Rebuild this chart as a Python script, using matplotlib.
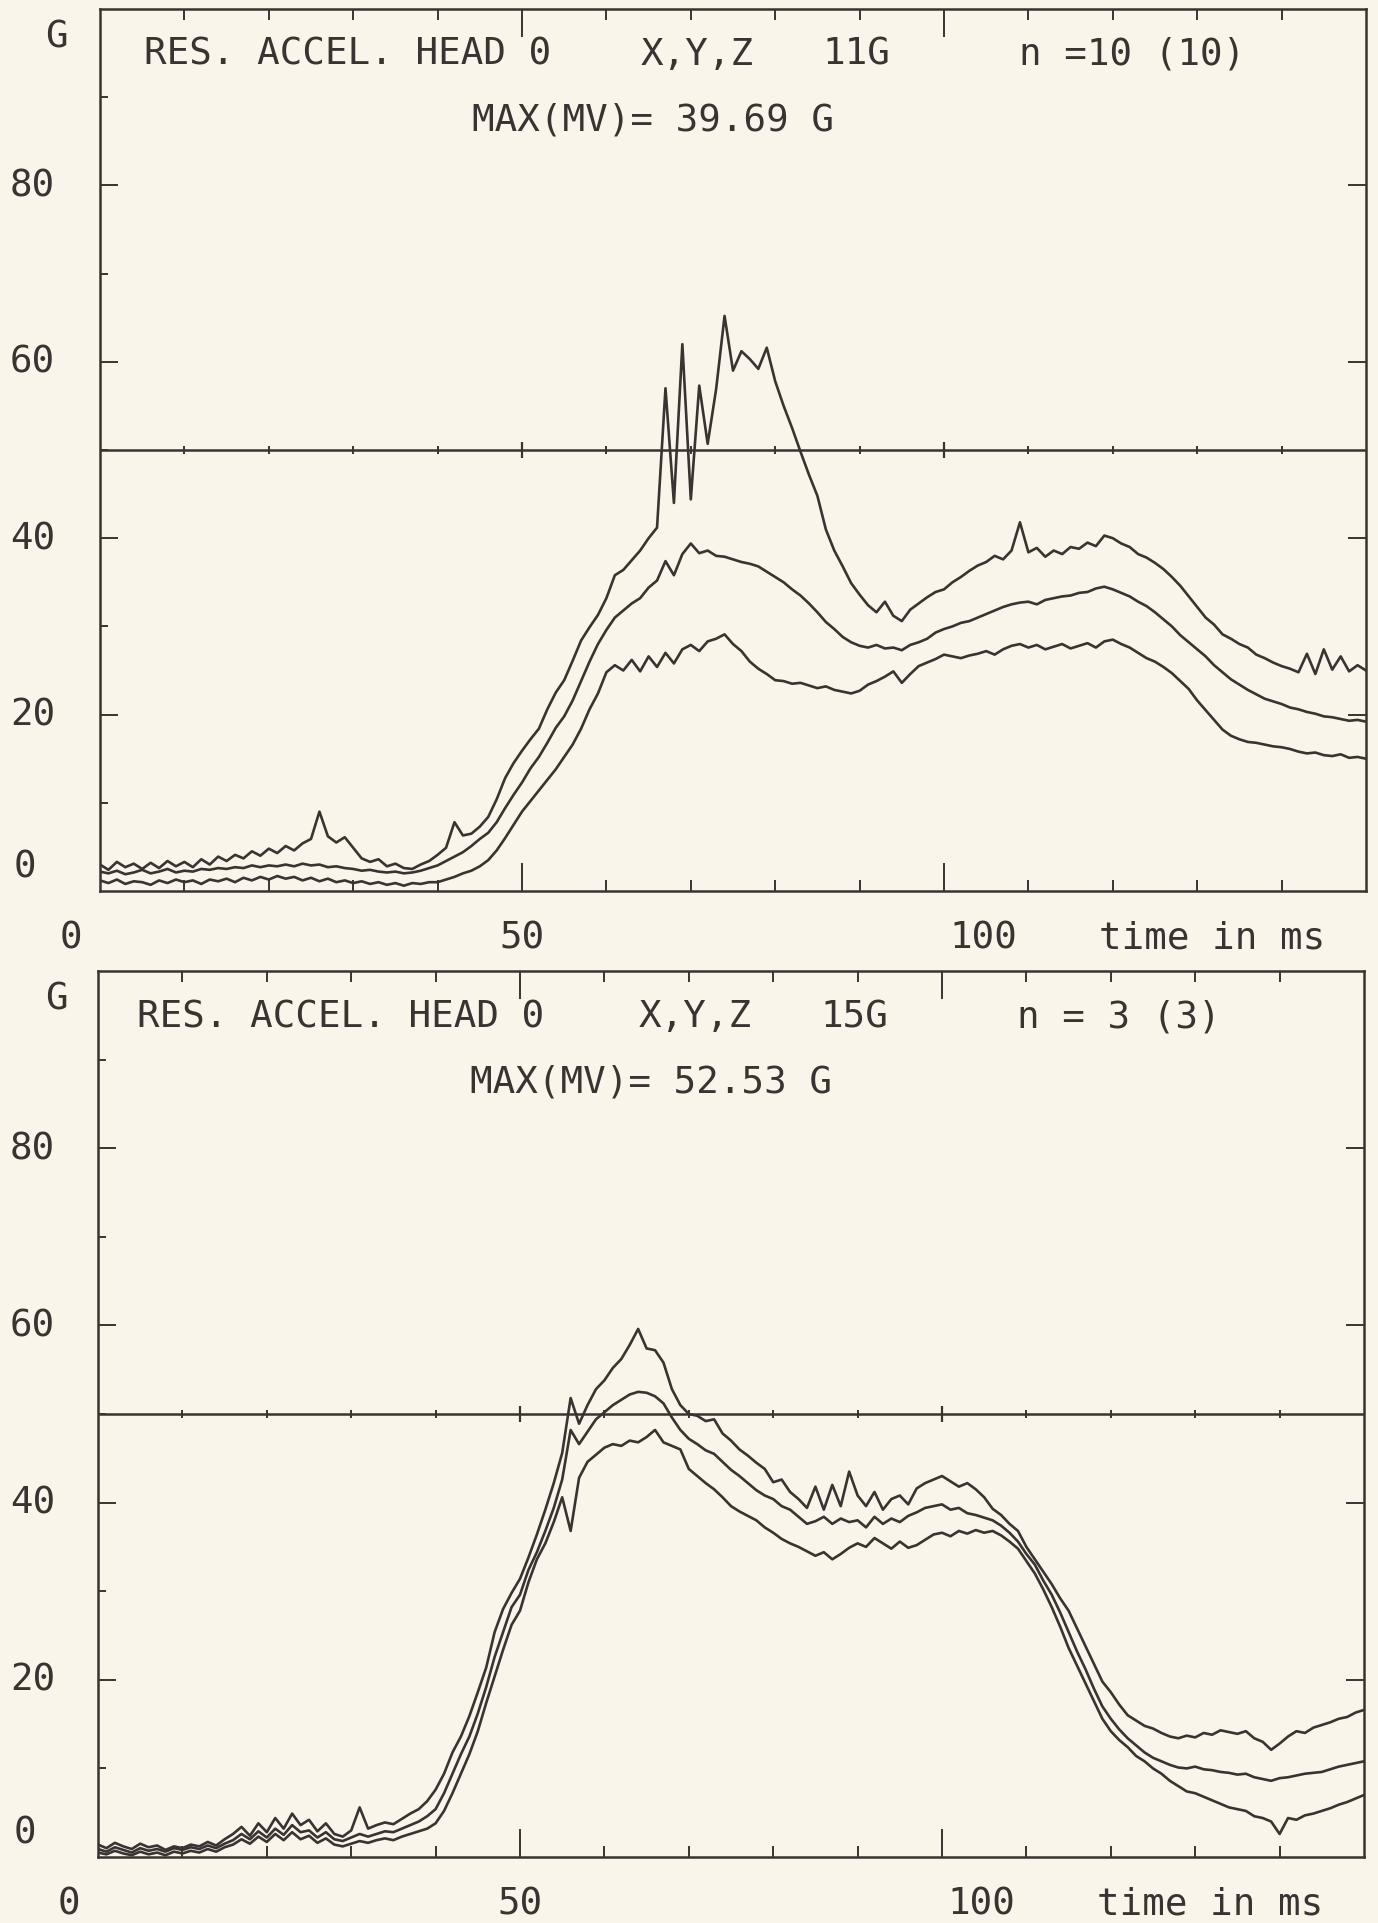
# -*- coding: utf-8 -*-
import numpy as np
import matplotlib.pyplot as plt
import matplotlib.transforms as mtransforms
from matplotlib.ticker import FixedLocator

# 时间轴 (ms)，每 1 ms 读一个点
t_ms = np.arange(0, 151, 1)

# ---------- 上图: 11G, n=10 ----------
top_upper = [
    3.0, 2.4, 3.3, 2.7, 3.1, 2.5, 3.2, 2.6, 3.4, 2.8,
    3.3, 2.7, 3.6, 3.0, 3.9, 3.4, 4.1, 3.7, 4.5, 4.0,
    4.8, 4.3, 5.1, 4.6, 5.4, 5.9, 9.0, 6.2, 5.5, 6.1,
    4.9, 3.7, 3.3, 3.6, 2.8, 3.1, 2.6, 2.5, 3.0, 3.4,
    4.1, 4.9, 7.8, 6.3, 6.5, 7.3, 8.4, 10.4, 12.8, 14.5,
    15.9, 17.2, 18.4, 20.6, 22.5, 23.9, 26.1, 28.4, 29.9, 31.3,
    33.2, 35.8, 36.4, 37.5, 38.6, 40.0, 41.2, 57.0, 44.0, 62.0,
    44.4, 57.3, 50.7, 56.9, 65.2, 59.0, 61.2, 60.3, 59.2, 61.6,
    57.8, 55.0, 52.5, 49.8, 47.2, 44.8, 41.0, 38.6, 36.8, 34.9,
    33.6, 32.4, 31.6, 32.8, 31.2, 30.6, 31.9, 32.6, 33.3, 33.9,
    34.2, 35.0, 35.6, 36.3, 36.9, 37.3, 38.0, 37.6, 38.6, 41.8,
    38.4, 38.9, 37.9, 38.6, 38.2, 39.0, 38.8, 39.5, 39.1, 40.3,
    40.0, 39.4, 39.0, 38.2, 37.8, 37.2, 36.5, 35.6, 34.6, 33.4,
    32.2, 31.0, 30.2, 29.1, 28.6, 28.0, 27.6, 26.8, 26.4, 25.9,
    25.5, 25.2, 24.8, 26.9, 24.6, 27.4, 25.1, 26.6, 24.9, 25.6,
    25.0]
top_middle = [
    2.2, 2.0, 2.3, 1.9, 2.1, 2.4, 2.0, 2.2, 2.5, 2.1,
    2.3, 2.2, 2.5, 2.4, 2.6, 2.5, 2.7, 2.6, 2.9, 2.7,
    2.9, 2.8, 3.0, 2.8, 3.1, 2.9, 3.0, 2.7, 2.8, 2.6,
    2.5, 2.3, 2.4, 2.2, 2.1, 2.2, 2.0, 2.1, 2.3, 2.6,
    2.9, 3.4, 3.9, 4.4, 5.1, 5.9, 6.6, 7.8, 9.4, 10.9,
    12.3, 13.9, 15.2, 16.8, 18.5, 19.8, 21.6, 23.8, 26.0, 28.0,
    29.6, 31.0, 31.8, 32.6, 33.2, 34.4, 35.2, 37.4, 35.8, 38.2,
    39.4, 38.3, 38.6, 38.0, 37.9, 37.6, 37.3, 37.1, 36.8, 36.2,
    35.6, 35.0, 34.2, 33.5, 32.6, 31.6, 30.5, 29.7, 28.8, 28.2,
    27.8, 27.6, 27.9, 27.5, 27.6, 27.3, 27.9, 28.2, 28.6, 29.3,
    29.7, 30.0, 30.4, 30.6, 31.0, 31.4, 31.8, 32.2, 32.5, 32.7,
    32.8, 32.5, 33.0, 33.2, 33.4, 33.5, 33.8, 33.9, 34.3, 34.5,
    34.2, 33.8, 33.4, 32.8, 32.3, 31.6, 30.8, 30.0, 29.0, 28.2,
    27.4, 26.6, 25.6, 24.8, 24.0, 23.4, 22.8, 22.3, 21.8, 21.5,
    21.2, 20.8, 20.6, 20.3, 20.1, 19.8, 19.7, 19.5, 19.3, 19.4,
    19.2]
top_lower = [
    1.2, 0.9, 1.3, 0.8, 1.1, 1.0, 0.7, 1.2, 0.9, 1.3,
    1.0, 1.2, 0.8, 1.3, 1.1, 1.4, 1.0, 1.5, 1.2, 1.6,
    1.3, 1.7, 1.4, 1.6, 1.2, 1.5, 1.1, 1.4, 1.0, 1.2,
    0.9, 1.1, 0.8, 1.0, 0.7, 0.9, 0.6, 0.9, 0.8, 1.0,
    1.0, 1.3, 1.6, 2.0, 2.3, 2.8, 3.5, 4.6, 6.0, 7.5,
    9.0, 10.2, 11.4, 12.6, 13.8, 15.2, 16.6, 18.4, 20.6, 22.4,
    24.8, 25.6, 25.0, 26.2, 24.9, 26.6, 25.4, 27.0, 25.8, 27.4,
    27.9, 27.2, 28.3, 28.6, 29.1, 28.0, 27.2, 26.0, 25.2, 24.6,
    23.9, 23.8, 23.5, 23.6, 23.3, 23.0, 23.2, 22.8, 22.6, 22.4,
    22.7, 23.4, 23.8, 24.3, 24.9, 23.6, 24.6, 25.5, 25.9, 26.3,
    26.8, 26.6, 26.4, 26.7, 26.9, 27.2, 26.8, 27.4, 27.8, 28.0,
    27.6, 27.9, 27.4, 27.7, 28.0, 27.5, 27.8, 28.1, 27.6, 28.3,
    28.5, 28.0, 27.6, 27.0, 26.4, 26.0, 25.4, 24.7, 23.8, 22.9,
    21.6, 20.5, 19.4, 18.3, 17.6, 17.2, 16.9, 16.8, 16.6, 16.4,
    16.3, 16.1, 15.8, 15.6, 15.7, 15.4, 15.3, 15.5, 15.1, 15.2,
    15.0]

# ---------- 下图: 15G, n=3 ----------
bot_upper = [
    1.4, 1.0, 1.6, 1.2, 0.9, 1.5, 1.1, 1.3, 0.8, 1.2,
    1.0, 1.4, 1.2, 1.7, 1.3, 2.0, 2.6, 3.4, 2.4, 3.8,
    2.8, 4.4, 3.2, 4.9, 3.6, 4.2, 2.9, 3.8, 2.6, 2.3,
    3.0, 5.6, 3.2, 3.6, 3.9, 3.7, 4.3, 4.9, 5.4, 6.3,
    7.6, 9.4, 11.8, 13.6, 15.9, 18.6, 21.4, 25.4, 28.0, 29.8,
    31.4, 33.8, 36.4, 39.2, 42.2, 45.6, 51.8, 48.9, 51.0, 52.8,
    53.8, 55.2, 56.2, 57.8, 59.6, 57.4, 57.2, 55.8, 52.8, 51.0,
    50.0, 49.8, 49.2, 49.4, 47.8, 47.0, 46.0, 45.3, 44.5, 43.8,
    42.3, 42.6, 41.2, 40.4, 39.4, 41.8, 39.2, 42.0, 39.6, 43.5,
    40.8, 39.6, 41.2, 39.2, 40.4, 40.8, 39.8, 41.6, 42.2, 42.6,
    43.0, 42.4, 41.8, 42.2, 41.5, 40.6, 39.3, 38.6, 37.6, 36.8,
    35.0, 33.6, 32.2, 30.8, 29.2, 27.8, 25.8, 23.8, 21.8, 19.8,
    18.6, 17.2, 16.0, 15.4, 14.8, 14.5, 14.0, 13.6, 13.4, 13.7,
    13.5, 14.0, 13.8, 14.3, 14.1, 13.9, 14.2, 13.4, 13.0, 12.1,
    12.8, 13.6, 14.2, 14.0, 14.6, 14.9, 15.2, 15.6, 15.8, 16.3,
    16.6]
bot_middle = [
    0.9, 0.6, 1.1, 0.8, 0.5, 1.0, 0.7, 0.9, 0.6, 1.0,
    0.8, 1.1, 0.9, 1.3, 1.0, 1.5, 1.9, 2.6, 2.0, 2.9,
    2.2, 3.2, 2.5, 3.6, 2.8, 3.0, 2.2, 2.8, 2.0, 1.8,
    2.2, 2.6, 2.3, 2.6, 2.9, 2.8, 3.2, 3.6, 4.0, 4.6,
    5.4, 7.2, 9.4, 11.6, 13.6, 16.2, 19.2, 22.6, 25.4, 28.2,
    29.6, 32.4, 34.4, 36.8, 39.4, 42.6, 48.2, 46.6, 48.0, 49.4,
    50.2, 51.0, 51.6, 52.2, 52.5, 52.4, 52.0, 51.2, 49.6, 48.2,
    47.2, 46.6, 45.9, 45.5, 44.6, 43.7, 43.0, 42.2, 41.4, 40.8,
    40.4, 39.6, 39.2, 38.4, 37.6, 37.9, 38.4, 37.6, 38.2, 37.8,
    38.0, 37.2, 38.4, 37.6, 38.2, 37.8, 38.5, 38.9, 39.4, 39.6,
    39.8, 39.2, 39.4, 38.8, 38.6, 38.3, 38.0, 37.4, 36.6, 35.6,
    34.2, 33.0, 31.2, 29.6, 27.6, 25.4, 23.2, 21.2, 19.0, 17.0,
    15.6, 14.4, 13.4, 12.6, 11.8, 11.2, 10.8, 10.4, 10.1, 10.0,
    10.2, 9.9, 9.8, 9.6, 9.5, 9.3, 9.4, 9.0, 8.8, 8.6,
    8.9, 9.0, 9.2, 9.4, 9.5, 9.6, 9.9, 10.2, 10.4, 10.6,
    10.8]
bot_lower = [
    0.5, 0.3, 0.7, 0.4, 0.2, 0.6, 0.3, 0.5, 0.2, 0.6,
    0.4, 0.7, 0.5, 0.9, 0.6, 1.1, 1.4, 2.0, 1.5, 2.3,
    1.7, 2.6, 1.9, 2.8, 2.0, 2.4, 1.6, 2.1, 1.4, 1.2,
    1.5, 1.8, 1.6, 1.9, 2.1, 1.9, 2.3, 2.6, 2.9, 3.2,
    3.8, 5.2, 7.2, 9.4, 11.6, 14.2, 17.4, 20.4, 23.4, 26.2,
    27.8, 31.0, 33.6, 35.4, 37.8, 40.6, 36.8, 42.8, 44.6, 45.4,
    46.2, 46.6, 46.4, 47.0, 46.8, 47.4, 48.2, 46.8, 46.4, 46.0,
    43.8, 43.0, 42.2, 41.5, 40.6, 39.6, 39.0, 38.5, 38.0, 37.2,
    36.6, 35.9, 35.4, 35.0, 34.5, 34.0, 34.4, 33.6, 34.2, 34.9,
    35.4, 35.0, 36.0, 35.4, 34.8, 35.6, 34.9, 35.2, 35.8, 36.4,
    36.6, 36.2, 36.8, 36.5, 36.9, 36.6, 36.8, 36.3, 35.6, 34.8,
    33.4, 32.0, 30.2, 28.2, 26.0, 23.6, 21.6, 19.6, 17.6, 15.6,
    14.2, 13.2, 12.4, 11.4, 10.8, 10.0, 9.4, 8.6, 8.0, 7.4,
    7.2, 6.8, 6.4, 6.0, 5.6, 5.4, 5.2, 4.6, 4.4, 4.0,
    2.6, 4.4, 4.2, 4.7, 4.9, 5.2, 5.5, 5.9, 6.2, 6.6,
    7.0]

# 标题文字
top_texts = ["RES. ACCEL. HEAD 0", "X,Y,Z", "11G", "n =10 (10)", "MAX(MV)= 39.69 G"]
bot_texts = ["RES. ACCEL. HEAD 0", "X,Y,Z", "15G", "n = 3 (3)", "MAX(MV)= 52.53 G"]
y_tick_labels = ["80", "60", "40", "20"]
y_tick_values = [80, 60, 40, 20]

ink = '#3b3232'
paper = '#faf5ea'
mono = ['DejaVu Sans Mono']
fs = 27

W, H = 1378, 1924
fig = plt.figure(figsize=(W / 100, H / 100), dpi=100, facecolor=paper)


def panel(ax_box, curves, texts, left_px):
    ax = fig.add_axes(ax_box)
    ax.set_facecolor(paper)
    # 三条曲线
    for c in curves:
        ax.plot(t_ms, c, color=ink, lw=1.9, solid_joinstyle='round')
    # 50 G 参考线及其刻度
    ax.axhline(50, color=ink, lw=1.8)
    ax.plot([10, 20, 30, 40, 60, 70, 80, 90, 110, 120, 130, 140], [50] * 12,
            ls='none', marker='|', ms=6, mew=1.4, color=ink)
    ax.plot([50, 100], [50, 50], ls='none', marker='|', ms=12, mew=1.6, color=ink)

    ax.set_xlim(0, 150)
    ax.set_ylim(0, 100)
    for s in ax.spines.values():
        s.set_linewidth(1.8)
        s.set_color(ink)
    ax.xaxis.set_major_locator(FixedLocator([50, 100]))
    ax.xaxis.set_minor_locator(FixedLocator([10, 20, 30, 40, 60, 70, 80, 90, 110, 120, 130, 140]))
    ax.yaxis.set_major_locator(FixedLocator([20, 40, 60, 80]))
    ax.yaxis.set_minor_locator(FixedLocator([10, 30, 50, 70, 90]))
    ax.tick_params(axis='x', which='both', direction='in', top=True, bottom=True,
                   labelbottom=False, color=ink, width=1.4)
    ax.tick_params(axis='x', which='major', length=20)
    ax.tick_params(axis='x', which='minor', length=8)
    ax.tick_params(axis='y', which='major', direction='in', left=True, right=True,
                   length=13, width=1.4, color=ink, labelleft=False)
    ax.tick_params(axis='y', which='minor', direction='in', left=True, right=False,
                   length=6, width=1.4, color=ink)

    # 图内标题
    kw = dict(transform=ax.transAxes, family=mono, fontsize=fs, color=ink, va='center', ha='left')
    ax.text((left_px - ax_box[0] * W) / (ax_box[2] * W), 0.949, texts[0], **kw)
    ax.text(0.427, 0.949, texts[1], **kw)
    ax.text(0.571, 0.949, texts[2], **kw)
    ax.text(0.726, 0.949, texts[3], **kw)
    ax.text(0.294, 0.875, texts[4], **kw)

    # y 轴标签 (手动放在左侧)
    tr = mtransforms.blended_transform_factory(fig.transFigure, ax.transData)
    kw = dict(transform=tr, family=mono, fontsize=fs, color=ink, va='center')
    for lab, v in zip(y_tick_labels, y_tick_values):
        ax.text(10 / W, v, lab, ha='left', **kw)
    ax.text(14 / W, 2.8, "0", ha='left', **kw)
    ax.text(68 / W, 96.9, "G", ha='right', **kw)

    # x 轴标签
    tr = mtransforms.blended_transform_factory(ax.transData, ax.transAxes)
    kw = dict(transform=tr, family=mono, fontsize=fs, color=ink, va='center')
    ax.text(-3.4, -0.053, "0", ha='center', **kw)
    ax.text(50, -0.053, "50", ha='center', **kw)
    ax.text(100.6, -0.053, "100", ha='left', **kw)
    ax.text(118.4, -0.053, "time in ms", ha='left', **kw)
    return ax


ax1 = panel([100 / W, 1 - 892 / H, 1266 / W, 882 / H],
            [top_upper, top_middle, top_lower], top_texts, 144)
ax2 = panel([98 / W, 1 - 1858 / H, 1266 / W, 886 / H],
            [bot_upper, bot_middle, bot_lower], bot_texts, 137)

fig.savefig('out.png', dpi=100, facecolor=paper)
